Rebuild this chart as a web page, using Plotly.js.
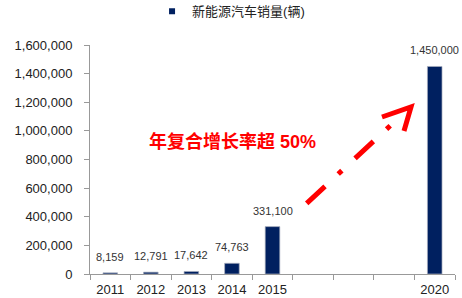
<!DOCTYPE html>
<html>
<head>
<meta charset="utf-8">
<script src="https://cdn.plot.ly/plotly-3.0.1.min.js"></script>
<style>html,body{margin:0;padding:0;background:#fff;}#chart{width:462px;height:298px;}</style>
</head>
<body>
<div id="chart"></div>
<script>
// Data
const slots = ['2011','2012','2013','2014','2015','2016','2017','2018','2020'];
const slotLabels = ['2011','2012','2013','2014','2015','','','','2020'];
const years = ['2011','2012','2013','2014','2015','2020'];
const sales = [8159, 12791, 17642, 74763, 331100, 1450000];
const seriesName = '新能源汽车销量(辆)';
const note = '年复合增长率超 50%';
const yTicks = [0,200000,400000,600000,800000,1000000,1200000,1400000,1600000];

const navy = '#002060';
const fontFam = 'Liberation Sans, Arial, Noto Sans CJK SC, sans-serif';

const traces = [
  {
    type: 'bar', x: years, y: sales, width: 0.36,
    marker: {color: navy, line: {color: 'rgba(170,175,190,0.7)', width: 1}},
    showlegend: false, hoverinfo: 'x+y'
  },
  {
    type: 'scatter', mode: 'markers', x: [null], y: [null], name: seriesName,
    marker: {symbol: 'square', size: 6, color: navy}, showlegend: true
  }
];

const annotations = years.map((yr, i) => ({
  x: slots.indexOf(yr), y: sales[i], xref: 'x', yref: 'y',
  text: sales[i].toLocaleString('en-US'),
  showarrow: false, xanchor: 'center', yanchor: 'middle', yshift: 16,
  font: {family: fontFam, size: 11, color: '#333'}
}));
annotations.push({
  x: 0.156, y: 0.58, xref: 'paper', yref: 'paper', xanchor: 'left', yanchor: 'middle',
  text: '<b>' + note + '</b>', showarrow: false,
  font: {family: fontFam, size: 18, color: '#ff0000'}
});

const layout = {
  width: 462, height: 298,
  margin: {l: 90, r: 7, t: 45, b: 24},
  paper_bgcolor: '#fff', plot_bgcolor: '#fff',
  font: {family: fontFam, size: 13, color: '#222'},
  showlegend: true,
  legend: {orientation: 'h', x: 0.17, xanchor: 'left', xref: 'paper',
           y: 0.962, yanchor: 'middle', yref: 'container',
           font: {family: fontFam, size: 13, color: '#222'}, itemwidth: 30},
  xaxis: {
    type: 'category', categoryorder: 'array', categoryarray: slots,
    tickmode: 'array', tickvals: slots, ticktext: slotLabels,
    tickson: 'boundaries', ticks: 'outside', ticklen: 5, tickcolor: '#999',
    showline: true, linecolor: '#999', linewidth: 1, showgrid: false,
    ticklabelstandoff: 3, range: [-0.5, 8.5],
    tickfont: {family: fontFam, size: 13, color: '#222'}
  },
  yaxis: {
    range: [0, 1600000], tickmode: 'array', tickvals: yTicks,
    tickformat: ',d', ticks: 'outside', ticklen: 5, tickcolor: '#999',
    showline: true, linecolor: '#999', linewidth: 1, showgrid: false, zeroline: false,
    ticklabelstandoff: 9,
    tickfont: {family: fontFam, size: 13, color: '#222'}
  },
  annotations: annotations,
  shapes: [
    {type: 'line', xref: 'paper', yref: 'paper', x0: 0.5937, y0: 0.3087, x1: 0.8326, y1: 0.6624,
     line: {color: '#ff0000', width: 5, dash: '25px,18px,5px,18px'}},
    {type: 'path', xref: 'paper', yref: 'paper',
     path: 'M0.8,0.6856 L0.8795,0.7293 L0.8603,0.6245',
     line: {color: '#ff0000', width: 5}}
  ]
};

Plotly.newPlot('chart', traces, layout, {displayModeBar: false, staticPlot: true});
</script>
</body>
</html>
